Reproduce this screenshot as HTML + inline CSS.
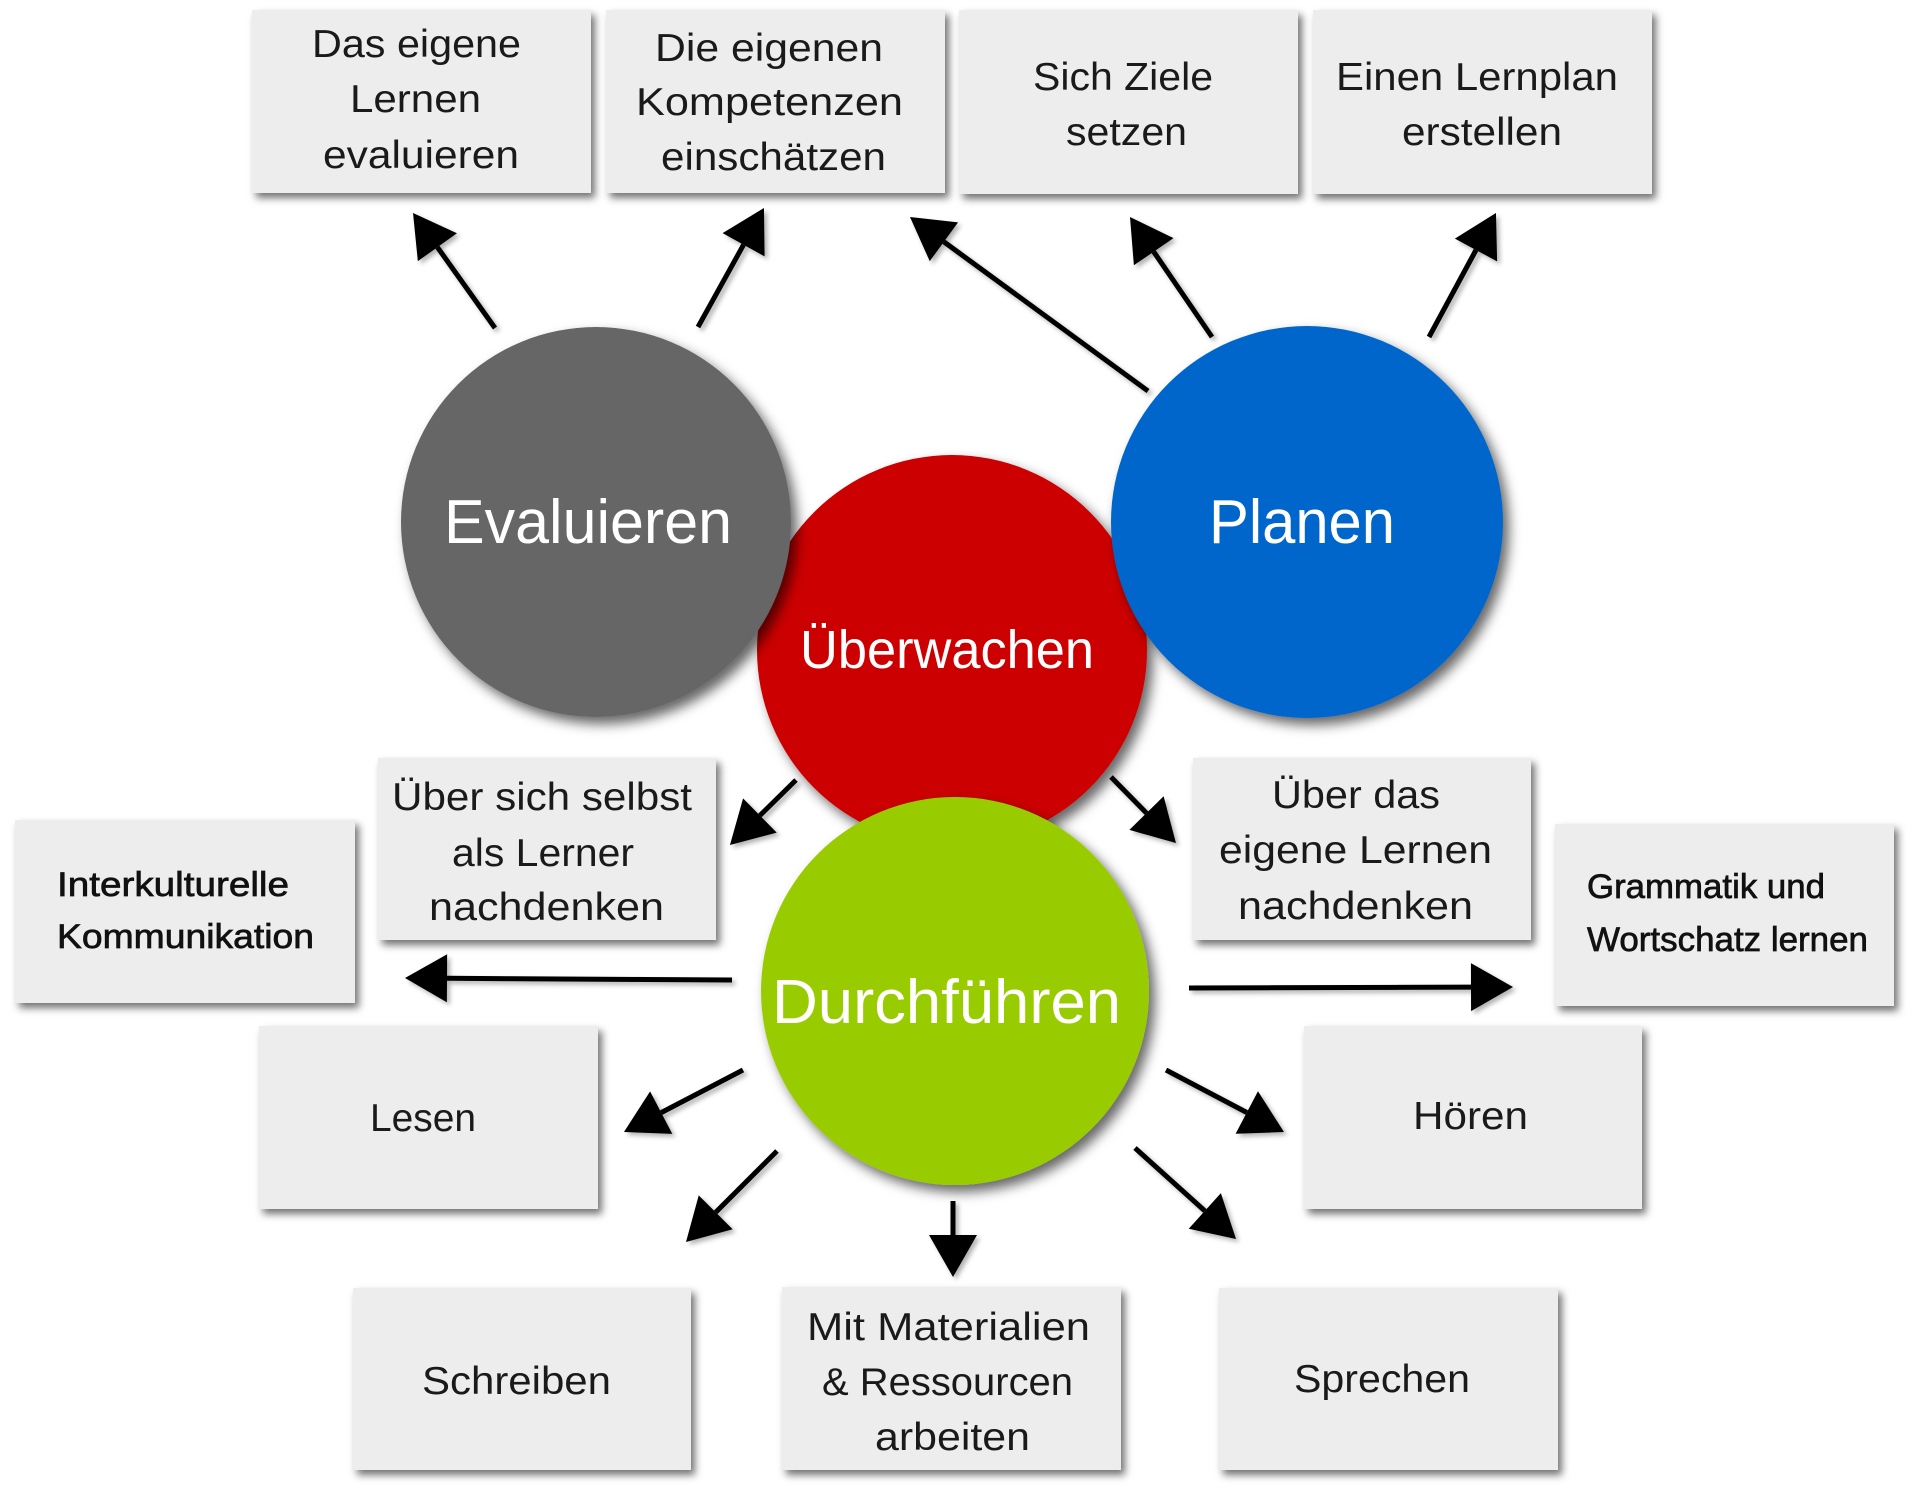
<!DOCTYPE html>
<html>
<head>
<meta charset="utf-8">
<style>
  html,body{margin:0;padding:0;background:#fff;}
  svg{display:block;}
  .bt{font-family:"Liberation Sans",sans-serif;font-size:39px;fill:#1a1a1a;}
  .bs{font-family:"Liberation Sans",sans-serif;font-size:34px;fill:#111;stroke:#111;stroke-width:0.7px;}
  .ct{font-family:"Liberation Sans",sans-serif;fill:#fff;}
</style>
</head>
<body>
<svg width="1913" height="1488" viewBox="0 0 1913 1488" xmlns="http://www.w3.org/2000/svg">
  <defs>
    <filter id="bsh" x="-10%" y="-10%" width="125%" height="130%">
      <feDropShadow dx="4" dy="5" stdDeviation="4" flood-color="#000" flood-opacity="0.55"/>
    </filter>
    <filter id="csh" x="-10%" y="-10%" width="125%" height="125%">
      <feDropShadow dx="6" dy="7" stdDeviation="6" flood-color="#000" flood-opacity="0.6"/>
    </filter>
    <filter id="ash" x="-20%" y="-20%" width="140%" height="140%">
      <feDropShadow dx="3" dy="3" stdDeviation="2.5" flood-color="#000" flood-opacity="0.3"/>
    </filter>
    <marker id="ah" markerUnits="userSpaceOnUse" markerWidth="50" markerHeight="50" refX="0" refY="24" orient="auto" overflow="visible">
      <path d="M0,0 L42,24 L0,48 Z" fill="#000"/>
    </marker>
  </defs>

  <!-- Boxes -->
  <g fill="#ededed" filter="url(#bsh)">
    <rect x="252" y="10" width="339" height="183"/>
    <rect x="606" y="10" width="339" height="183"/>
    <rect x="959" y="10" width="339" height="184"/>
    <rect x="1313" y="10" width="339" height="184"/>
    <rect x="378" y="758" width="338" height="182"/>
    <rect x="1193" y="758" width="338" height="182"/>
    <rect x="15" y="820" width="340" height="183"/>
    <rect x="1555" y="824" width="339" height="182"/>
    <rect x="259" y="1026" width="339" height="183"/>
    <rect x="1304" y="1026" width="338" height="183"/>
    <rect x="353" y="1288" width="338" height="182"/>
    <rect x="782" y="1287" width="339" height="183"/>
    <rect x="1219" y="1288" width="339" height="182"/>
  </g>

  <!-- Box texts -->
  <g class="bt">
    <text x="312" y="57" textLength="209" lengthAdjust="spacingAndGlyphs">Das eigene</text>
    <text x="350" y="112" textLength="131" lengthAdjust="spacingAndGlyphs">Lernen</text>
    <text x="323" y="168" textLength="196" lengthAdjust="spacingAndGlyphs">evaluieren</text>

    <text x="655" y="61" textLength="228" lengthAdjust="spacingAndGlyphs">Die eigenen</text>
    <text x="636" y="115" textLength="267" lengthAdjust="spacingAndGlyphs">Kompetenzen</text>
    <text x="661" y="170" textLength="225" lengthAdjust="spacingAndGlyphs">einschätzen</text>

    <text x="1033" y="90" textLength="180" lengthAdjust="spacingAndGlyphs">Sich Ziele</text>
    <text x="1066" y="145" textLength="121" lengthAdjust="spacingAndGlyphs">setzen</text>

    <text x="1336" y="90" textLength="282" lengthAdjust="spacingAndGlyphs">Einen Lernplan</text>
    <text x="1402" y="145" textLength="160" lengthAdjust="spacingAndGlyphs">erstellen</text>

    <text x="392" y="810" textLength="300" lengthAdjust="spacingAndGlyphs">Über sich selbst</text>
    <text x="452" y="866" textLength="182" lengthAdjust="spacingAndGlyphs">als Lerner</text>
    <text x="429" y="920" textLength="235" lengthAdjust="spacingAndGlyphs">nachdenken</text>

    <text x="1272" y="808" textLength="168" lengthAdjust="spacingAndGlyphs">Über das</text>
    <text x="1219" y="863" textLength="273" lengthAdjust="spacingAndGlyphs">eigene Lernen</text>
    <text x="1238" y="919" textLength="235" lengthAdjust="spacingAndGlyphs">nachdenken</text>

    <text x="370" y="1131" textLength="106" lengthAdjust="spacingAndGlyphs">Lesen</text>
    <text x="1413" y="1129" textLength="115" lengthAdjust="spacingAndGlyphs">Hören</text>
    <text x="422" y="1394" textLength="189" lengthAdjust="spacingAndGlyphs">Schreiben</text>
    <text x="1294" y="1392" textLength="176" lengthAdjust="spacingAndGlyphs">Sprechen</text>

    <text x="807" y="1340" textLength="283" lengthAdjust="spacingAndGlyphs">Mit Materialien</text>
    <text x="822" y="1395" textLength="251" lengthAdjust="spacingAndGlyphs">&amp; Ressourcen</text>
    <text x="875" y="1450" textLength="155" lengthAdjust="spacingAndGlyphs">arbeiten</text>
  </g>
  <g class="bs">
    <text x="57" y="896" textLength="232" lengthAdjust="spacingAndGlyphs">Interkulturelle</text>
    <text x="57" y="948" textLength="257" lengthAdjust="spacingAndGlyphs">Kommunikation</text>
    <text x="1587" y="898" textLength="238" lengthAdjust="spacingAndGlyphs">Grammatik und</text>
    <text x="1587" y="951" textLength="281" lengthAdjust="spacingAndGlyphs">Wortschatz lernen</text>
  </g>

  <!-- Arrows -->
  <g stroke="#000" stroke-width="5" fill="none" marker-end="url(#ah)" filter="url(#ash)">
    <line x1="495" y1="328" x2="437.4" y2="247.2"/>
    <line x1="698" y1="327" x2="743.6" y2="244.7"/>
    <line x1="1148" y1="391" x2="943.9" y2="241.8"/>
    <line x1="1212" y1="337" x2="1153.7" y2="251.7"/>
    <line x1="1429" y1="337" x2="1476" y2="250"/>
    <line x1="796" y1="780" x2="759.9" y2="815.5"/>
    <line x1="1111" y1="777" x2="1146.5" y2="813.1"/>
    <line x1="732" y1="980" x2="447" y2="978.3"/>
    <line x1="1189" y1="988" x2="1471" y2="987.1"/>
    <line x1="743" y1="1070" x2="661.2" y2="1112.6"/>
    <line x1="1166" y1="1070" x2="1246.8" y2="1112.5"/>
    <line x1="777" y1="1151" x2="715.7" y2="1212.3"/>
    <line x1="1135" y1="1148" x2="1204.8" y2="1210.9"/>
    <line x1="953" y1="1201" x2="953" y2="1235"/>
  </g>

  <!-- Circles (red bottom, others on top) -->
  <circle cx="952" cy="650" r="195" fill="#cc0000" filter="url(#csh)"/>
  <circle cx="596" cy="522" r="195" fill="#666666" filter="url(#csh)"/>
  <circle cx="1307" cy="522" r="196" fill="#0066cc" filter="url(#csh)"/>
  <circle cx="955" cy="991" r="194" fill="#99cc00" filter="url(#csh)"/>

  <g class="ct">
    <text x="800" y="668" font-size="54" textLength="294" lengthAdjust="spacingAndGlyphs">Überwachen</text>
    <text x="444" y="543" font-size="62" textLength="288" lengthAdjust="spacingAndGlyphs">Evaluieren</text>
    <text x="1209" y="543" font-size="62" textLength="186" lengthAdjust="spacingAndGlyphs">Planen</text>
    <text x="772" y="1023" font-size="62" textLength="349" lengthAdjust="spacingAndGlyphs">Durchführen</text>
  </g>
</svg>
</body>
</html>
